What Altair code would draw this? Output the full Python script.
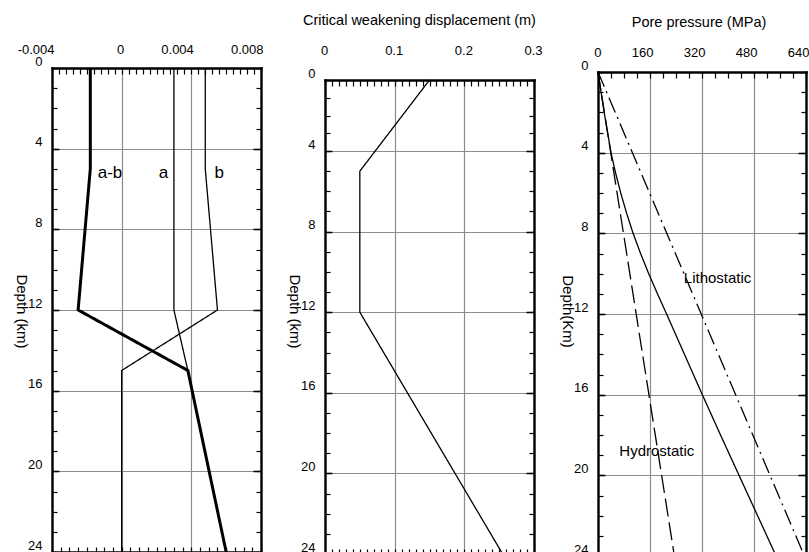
import altair as alt
import pandas as pd

FONT = "Liberation Sans"
GRID = "#8c8c8c"

# ---------------- data ----------------
# Panel 1: friction parameters a, b, a-b versus depth (km)
ab_depth = [0, 5, 12, 15, 24]
ab_value = [-0.0018, -0.0018, -0.0025, 0.0038, 0.0060]
a_depth = [0, 12, 15, 24]
a_value = [0.0030, 0.0030, 0.0038, 0.0060]
b_depth = [0, 5, 12, 15, 24]
b_value = [0.0048, 0.0048, 0.0055, 0.0, 0.0]
p1_label_text = ["a-b", "a", "b"]
p1_label_x = [-0.00067, 0.0024, 0.0056]
p1_label_depth = [5.2, 5.2, 5.2]
p1_ticks = [-0.004, 0, 0.004, 0.008]

# Panel 2: critical weakening displacement (m)
dc_depth = [0, 5, 12, 24]
dc_value = [0.15, 0.05, 0.05, 0.255]
p2_ticks = [0, 0.1, 0.2, 0.3]

# Panel 3: pore pressure (MPa)
hydro_depth = [0, 24]
hydro_value = [0, 235]
litho_depth = [0, 24]
litho_value = [0, 635]
pore_depth = [0, 2, 4, 5, 6, 7, 8, 9, 10, 11, 12, 14, 16, 18, 20, 22, 24]
pore_value = [0, 19, 40, 54, 70, 88, 108, 131, 156, 183, 211, 266, 321,
              377, 434, 491, 548]
p3_label_text = ["Lithostatic", "Hydrostatic"]
p3_label_x = [368, 181]
p3_label_depth = [10.2, 18.8]
p3_ticks = [0, 160, 320, 480, 640]

depth_ticks = [0, 4, 8, 12, 16, 20, 24]
depth_minor = list(range(0, 25))
depth_major_inner = [4, 8, 12, 16, 20]


def df_of(depths, values, name):
    return pd.DataFrame({"depth": depths, "value": values, "series": name})


def panel(lines, texts, xdom, ydom, yrange, W, H, top_y, bot_y,
          xlab_align, xlab_offset, xlab_pad, top_minor, bot_minor,
          top_ts, bot_ts, xticks, ytitle, title=None, title_dx=0):
    xs = alt.Scale(domain=xdom, nice=False, zero=False)
    ys = alt.Scale(domain=ydom, range=yrange, nice=False, zero=False)
    base = lines[0][0]

    def inv(xaxis, yaxis):
        return alt.Chart(base).mark_point(opacity=0).encode(
            x=alt.X("value:Q", scale=xs, axis=xaxis),
            y=alt.Y("depth:Q", scale=ys, axis=yaxis),
        )

    def dom_axis(orient, offset):
        return alt.Axis(orient=orient, domain=True, domainColor="black",
                        domainWidth=2.4, domainCap="square", ticks=False,
                        labels=False, grid=False, title=None, offset=offset,
                        zindex=1)

    def tick_axis(orient, values, ts, offset, width=1.2):
        return alt.Axis(orient=orient, values=values, ticks=True, tickSize=ts,
                        tickWidth=width, tickColor="black", domain=True,
                        domainOpacity=0, labels=False, grid=False,
                        title=None, offset=offset, zindex=2)

    xa = alt.Axis(orient="top", values=xticks, title=None, grid=True,
                  gridColor=GRID, gridWidth=1.2, domain=False, ticks=False,
                  tickSize=0, labelFont=FONT, labelFontSize=13,
                  labelColor="black", labelAlign=xlab_align,
                  labelOffset=xlab_offset, labelPadding=xlab_pad,
                  labelFlush=False, labelOverlap=False,
                  labelExpr="'' + datum.value")
    ya = alt.Axis(orient="left", values=depth_ticks, grid=True,
                  gridColor=GRID, gridWidth=1.2, domain=False, ticks=False,
                  tickSize=0, labelPadding=10, labelBaseline="bottom",
                  labelFont=FONT, labelFontSize=13, labelColor="black",
                  labelFlush=False, labelOverlap=False,
                  labelExpr="'' + datum.value",
                  title=ytitle, titleFont=FONT, titleFontSize=15,
                  titleFontWeight="normal", titleColor="black",
                  titleAngle=90, titleX=-31, titleY=243,
                  titleAlign="center", titleBaseline="middle")

    layers = [
        inv(xa, ya),
        inv(dom_axis("top", -top_y), dom_axis("right", 0)),
        inv(dom_axis("bottom", bot_y - H), dom_axis("left", 0)),
        inv(tick_axis("top", top_minor, top_ts, -(top_y + top_ts)),
            tick_axis("left", depth_minor, 5, -5)),
        inv(tick_axis("bottom", bot_minor, bot_ts, bot_y - H - bot_ts),
            tick_axis("right", depth_minor, 5, -5)),
        inv(None, tick_axis("left", depth_major_inner, 7, -7, 1.5)),
        inv(None, tick_axis("right", depth_major_inner, 8, -8, 1.5)),
    ]
    for df, width, dash in lines:
        mk = alt.Chart(df).mark_line(color="black", strokeWidth=width,
                                     strokeDash=dash, strokeCap="butt")
        layers.append(mk.encode(
            x=alt.X("value:Q", scale=xs, axis=None),
            y=alt.Y("depth:Q", scale=ys, axis=None),
            order=alt.Order("depth:Q"),
        ))
    for tdf, size in texts:
        layers.append(alt.Chart(tdf).mark_text(
            font=FONT, fontSize=size, color="black", align="center",
            baseline="middle").encode(
            x=alt.X("value:Q", scale=xs, axis=None),
            y=alt.Y("depth:Q", scale=ys, axis=None),
            text="label:N",
        ))
    props = dict(width=W, height=H)
    if title:
        props["title"] = alt.TitleParams(text=title, font=FONT, fontSize=14.5,
                                         fontWeight="normal", color="black",
                                         anchor="middle", offset=16,
                                         dx=title_dx)
    return alt.layer(*layers).resolve_axis(x="independent",
                                           y="independent").properties(**props)


H = 484

p1_top_minor = [round(-0.004 + 0.0004 * i, 6) for i in range(31)]
p1_bot_minor = [round(-0.004 + 0.0005 * i, 6) for i in range(25)]
p1_texts = pd.DataFrame({"label": p1_label_text, "value": p1_label_x,
                         "depth": p1_label_depth})
p1 = panel(
    lines=[(df_of(b_depth, b_value, "b"), 1.3, [1, 0]),
           (df_of(a_depth, a_value, "a"), 1.3, [1, 0]),
           (df_of(ab_depth, ab_value, "a-b"), 3.0, [1, 0])],
    texts=[(p1_texts, 17)],
    xdom=[-0.004, 0.008], ydom=[0, 24], yrange=[0, 484], W=209, H=H,
    top_y=0, bot_y=484, xlab_align="right", xlab_offset=2, xlab_pad=12,
    top_minor=p1_top_minor, bot_minor=p1_bot_minor, top_ts=6, bot_ts=5,
    xticks=p1_ticks, ytitle="Depth (km)")

p2_minor = [round(0.01 * i, 4) for i in range(31)]
p2 = panel(
    lines=[(df_of(dc_depth, dc_value, "dc"), 1.3, [1, 0])],
    texts=[],
    xdom=[0, 0.3], ydom=[0, 4, 24], yrange=[12, 83, 486], W=209, H=H,
    top_y=12, bot_y=486, xlab_align="center", xlab_offset=-1, xlab_pad=11,
    top_minor=p2_minor, bot_minor=p2_minor, top_ts=6, bot_ts=5,
    xticks=p2_ticks, ytitle="Depth (km)",
    title="Critical weakening displacement (m)", title_dx=-10)

p3_minor = [40 * i for i in range(17)]
p3_texts = pd.DataFrame({"label": p3_label_text, "value": p3_label_x,
                         "depth": p3_label_depth})
p3 = panel(
    lines=[(df_of(hydro_depth, hydro_value, "hydro"), 1.3, [18, 6]),
           (df_of(litho_depth, litho_value, "litho"), 1.3, [16, 5, 2, 5]),
           (df_of(pore_depth, pore_value, "pore"), 1.3, [1, 0])],
    texts=[(p3_texts, 15)],
    xdom=[0, 640], ydom=[0, 24], yrange=[4, 488], W=208, H=H,
    top_y=4, bot_y=488, xlab_align="right", xlab_offset=3, xlab_pad=9,
    top_minor=p3_minor, bot_minor=p3_minor, top_ts=6, bot_ts=4,
    xticks=p3_ticks, ytitle="Depth(Km)",
    title="Pore pressure (MPa)", title_dx=-3)

chart = alt.hconcat(p1, p2, p3, spacing=64, bounds="flush").configure_view(
    stroke=None).properties(
    padding={"left": 13, "top": 12, "right": 0, "bottom": 0},
    background="white")

chart.save("out.html", embed_options={"renderer": "svg", "actions": False})
